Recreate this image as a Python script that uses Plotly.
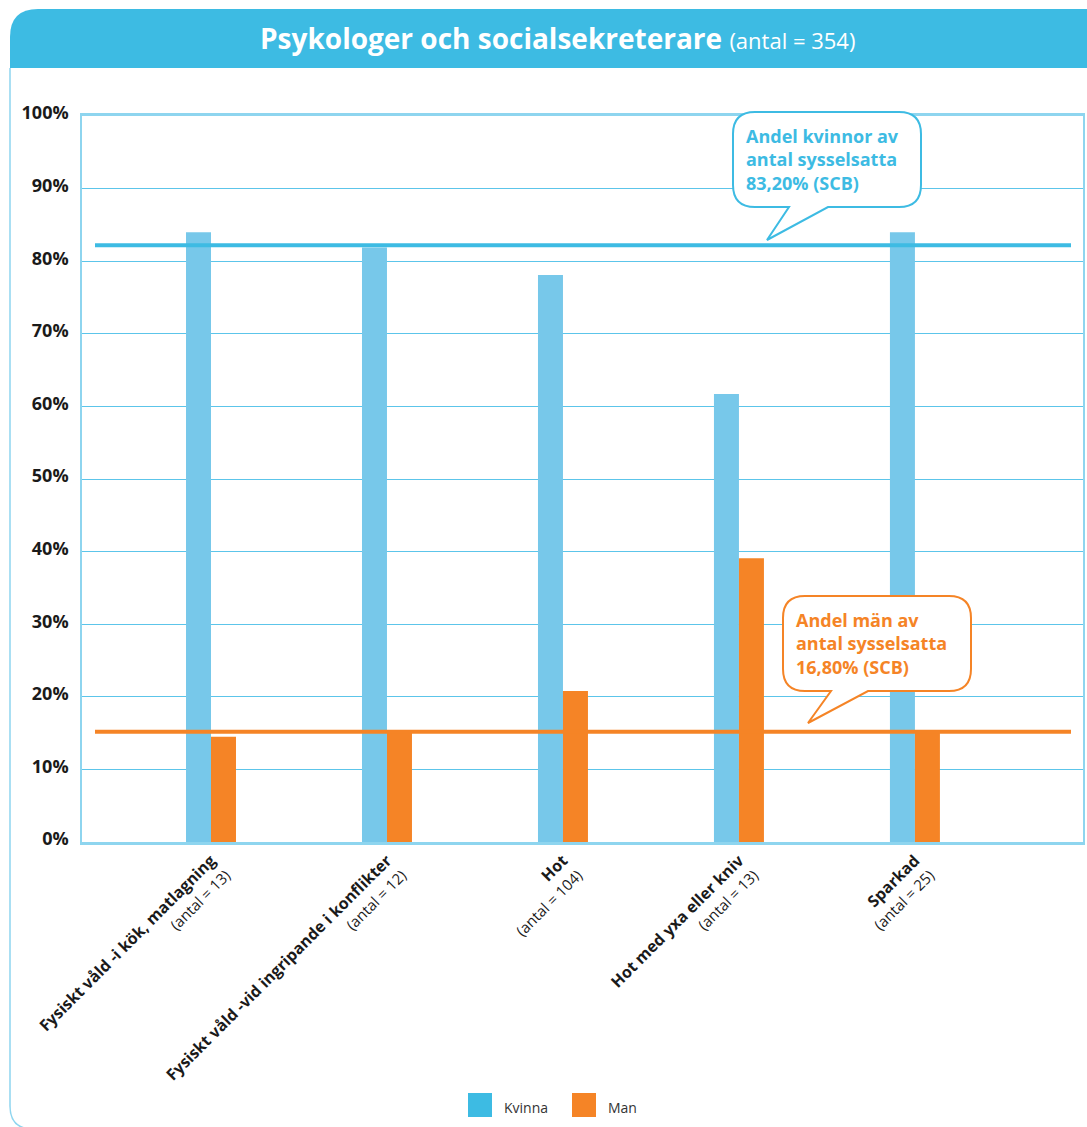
import plotly.graph_objects as go

# Data
categories = [
    "Fysiskt våld -i kök, matlagning",
    "Fysiskt våld -vid ingripande i konflikter",
    "Hot",
    "Hot med yxa eller kniv",
    "Sparkad",
]
antal = [13, 12, 104, 13, 25]
kvinna = [84.0, 81.9, 78.1, 61.7, 84.0]
man = [14.5, 15.3, 20.8, 39.1, 15.3]
ref_kvinnor = 82.2
ref_man = 15.2
y_ticks = [0, 10, 20, 30, 40, 50, 60, 70, 80, 90, 100]

BLUE = "#3DBBE3"
BAR_BLUE = "#77C8EA"
ORANGE = "#F58426"
GRID = "#5CC5EA"
FRAME = "#8ED5EF"
FONT = "Open Sans, Noto Sans, sans-serif"

W, H = 1087, 1127
L, R, T, B = 82, 4, 116, 285


# pixel -> paper helpers for the decorations
def px(x):
    return (x - L) / (W - L - R)


def py(y):
    return (H - B - y) / (H - T - B)


def bubble(x0, y0, x1, y1, r, ta, tb, tipx, tipy):
    pts = [
        ("M", [(x0 + r, y0)]),
        ("L", [(x1 - r, y0)]),
        ("Q", [(x1, y0), (x1, y0 + r)]),
        ("L", [(x1, y1 - r)]),
        ("Q", [(x1, y1), (x1 - r, y1)]),
        ("L", [(tb, y1)]),
        ("L", [(tipx, tipy)]),
        ("L", [(ta, y1)]),
        ("L", [(x0 + r, y1)]),
        ("Q", [(x0, y1), (x0, y1 - r)]),
        ("L", [(x0, y0 + r)]),
        ("Q", [(x0, y0), (x0 + r, y0)]),
    ]
    s = ""
    for cmd, coords in pts:
        s += cmd + " " + " ".join(f"{px(a):.5f},{py(b):.5f}" for a, b in coords) + " "
    return s + "Z"


ticktext = [
    f"<b>{c}</b><br><span style='font-size:15px'>(antal = {n})</span>"
    for c, n in zip(categories, antal)
]

fig = go.Figure()
fig.add_trace(go.Bar(x=categories, y=kvinna, name="Kvinna", marker=dict(color=BAR_BLUE, line=dict(width=0)),
                     showlegend=False))
fig.add_trace(go.Bar(x=categories, y=man, name="Man", marker=dict(color=ORANGE, line=dict(width=0)),
                     showlegend=False))

shapes = []
# banner
shapes.append(dict(type="path", xref="paper", yref="paper",
                   path=f"M {px(10)},{py(68)} L {px(10)},{py(37)} Q {px(10)},{py(9)} {px(38)},{py(9)} "
                        f"L {px(1090)},{py(9)} L {px(1090)},{py(68)} Z",
                   fillcolor=BLUE, line=dict(width=0), layer="below"))
# outer frame (bottom edge falls just outside the picture)
shapes.append(dict(type="path", xref="paper", yref="paper",
                   path=f"M {px(10)},{py(68)} L {px(10)},{py(1106)} Q {px(10)},{py(1129)} {px(33)},{py(1129)} "
                        f"L {px(1090)},{py(1129)}",
                   line=dict(color=FRAME, width=1.5), layer="below"))
# reference lines
shapes.append(dict(type="line", xref="paper", yref="y", x0=px(95), x1=px(1071), y0=ref_kvinnor, y1=ref_kvinnor,
                   line=dict(color=BLUE, width=4)))
shapes.append(dict(type="line", xref="paper", yref="y", x0=px(95), x1=px(1071), y0=ref_man, y1=ref_man,
                   line=dict(color=ORANGE, width=4)))
# callouts
shapes.append(dict(type="path", xref="paper", yref="paper",
                   path=bubble(733, 112, 921, 207, 22, 789, 828, 767, 240),
                   fillcolor="white", line=dict(color=BLUE, width=2)))
shapes.append(dict(type="path", xref="paper", yref="paper",
                   path=bubble(783, 596, 971, 691, 22, 831, 868, 808, 723),
                   fillcolor="white", line=dict(color=ORANGE, width=2)))
# legend swatches
shapes.append(dict(type="rect", xref="paper", yref="paper", x0=px(468), x1=px(492), y0=py(1093), y1=py(1117),
                   fillcolor=BLUE, line=dict(width=0)))
shapes.append(dict(type="rect", xref="paper", yref="paper", x0=px(572), x1=px(596), y0=py(1093), y1=py(1117),
                   fillcolor=ORANGE, line=dict(width=0)))

annotations = [
    dict(text="<b>Psykologer och socialsekreterare</b> <span style='font-size:22px'>(antal = 354)</span>",
         x=px(557), y=py(38), xref="paper", yref="paper", xanchor="center", yanchor="middle",
         showarrow=False, font=dict(family=FONT, size=28, color="white")),
    dict(text="<b>Andel kvinnor av<br>antal sysselsatta<br>83,20% (SCB)</b>",
         x=px(744), y=py(122), xref="paper", yref="paper", xanchor="left", yanchor="top", align="left",
         showarrow=False, font=dict(family=FONT, size=18, color=BLUE)),
    dict(text="<b>Andel män av<br>antal sysselsatta<br>16,80% (SCB)</b>",
         x=px(794), y=py(606), xref="paper", yref="paper", xanchor="left", yanchor="top", align="left",
         showarrow=False, font=dict(family=FONT, size=18, color=ORANGE)),
    dict(text="Kvinna", x=px(502), y=py(1119), xref="paper", yref="paper", xanchor="left", yanchor="bottom",
         showarrow=False, font=dict(family=FONT, size=14, color="#333333")),
    dict(text="Man", x=px(606), y=py(1119), xref="paper", yref="paper", xanchor="left", yanchor="bottom",
         showarrow=False, font=dict(family=FONT, size=14, color="#333333")),
]

fig.update_layout(
    width=W,
    height=H,
    margin=dict(l=L, r=R, t=T, b=B, autoexpand=False),
    paper_bgcolor="white",
    plot_bgcolor="white",
    barmode="group",
    bargap=0.716,
    bargroupgap=0,
    font=dict(family=FONT, color="#1a1a1a"),
    shapes=shapes,
    annotations=annotations,
    xaxis=dict(
        type="category",
        range=[-0.733, 4.955],
        tickvals=categories,
        ticktext=ticktext,
        tickangle=-45,
        tickfont=dict(family=FONT, size=16, color="#1a1a1a"),
        showgrid=False,
        showline=True,
        linecolor=FRAME,
        linewidth=3,
        mirror=True,
        ticks="",
    ),
    yaxis=dict(
        range=[0, 100],
        tickvals=y_ticks,
        ticktext=[f"<b>{v}%</b>" for v in y_ticks],
        tickfont=dict(family=FONT, size=18, color="#1a1a1a"),
        showgrid=True,
        gridcolor=GRID,
        gridwidth=1,
        zeroline=False,
        showline=True,
        linecolor=FRAME,
        linewidth=1.5,
        mirror=True,
        ticks="",
        ticklabelstandoff=8,
        ticklabelshift=-3,
    ),
)

fig.write_html("out.html", config={"displayModeBar": False},
               post_script="document.body.style.margin='0px';")
